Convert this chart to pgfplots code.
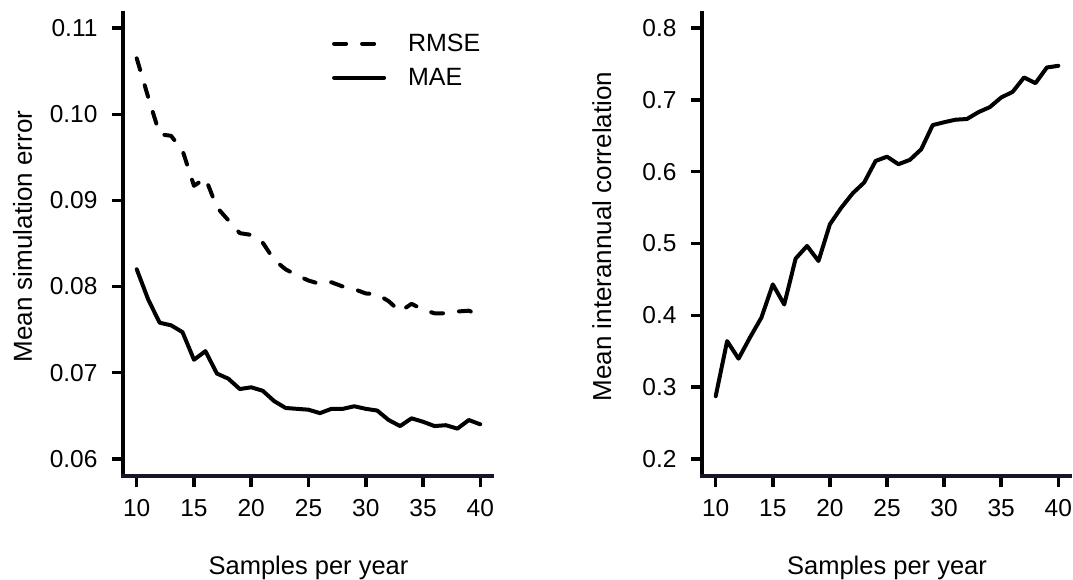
\documentclass[border=0pt]{standalone}
\usepackage{fontspec}
\setmainfont{Liberation Sans}
\usepackage{pgfplots}
\pgfplotsset{compat=1.18}
\definecolor{axblack}{RGB}{2,2,2}
\definecolor{xline}{RGB}{22,22,40}
\pgfplotstableread{
x rmse mae
10 0.1065 0.0820
11 0.1020 0.0785
12 0.0977 0.0758
13 0.0975 0.0755
14 0.0958 0.0747
15 0.0917 0.0715
16 0.0926 0.0725
17 0.0892 0.0699
18 0.0877 0.0693
19 0.0862 0.0681
20 0.0860 0.0683
21 0.0851 0.0679
22 0.0831 0.0667
23 0.0820 0.0659
24 0.0813 0.0658
25 0.0807 0.0657
26 0.0803 0.0653
27 0.0805 0.0658
28 0.0800 0.0658
29 0.0797 0.0661
30 0.0792 0.0658
31 0.0791 0.0656
32 0.0783 0.0645
33 0.0771 0.0638
34 0.0780 0.0647
35 0.0773 0.0643
36 0.0769 0.0638
37 0.0769 0.0639
38 0.0771 0.0635
39 0.0772 0.0645
40 0.0766 0.0640
}\errtab
\pgfplotstableread{
x corr
10 0.2873
11 0.3640
12 0.3395
13 0.3690
14 0.3967
15 0.4430
16 0.4150
17 0.4790
18 0.4966
19 0.4756
20 0.5268
21 0.5500
22 0.5700
23 0.5850
24 0.6150
25 0.6210
26 0.6105
27 0.6165
28 0.6314
29 0.6650
30 0.6690
31 0.6725
32 0.6735
33 0.6830
34 0.6900
35 0.7035
36 0.7113
37 0.7314
38 0.7234
39 0.7453
40 0.7476
}\cortab
\pgfplotsset{
  rstyle/.style={
    scale only axis,
    axis x line*=bottom,
    axis y line*=left,
    axis line style={line width=4pt, color=axblack},
    tick align=outside,
    major tick length=11pt,
    every tick/.style={line width=3.5pt, black},
    xmin=8.8, xmax=41.2,
    xtick={10,15,...,40},
    ticklabel style={font=\fontsize{24.5}{29}\selectfont},
    xticklabel shift=9pt,
    yticklabel shift=11pt,
    /pgf/number format/assume math mode=true,
    scaled y ticks=false,
    xlabel={Samples per year},
    xlabel style={font=\fontsize{25.5}{30}\selectfont, at={(axis description cs:0.5,-0.2108)}, anchor=base},
    ylabel style={font=\fontsize{26}{30}\selectfont},
    clip=false,
  }
}
\begin{document}
\begin{tikzpicture}
\useasboundingbox (0pt,0pt) rectangle (1073pt,579pt);
\begin{axis}[rstyle,
  at={(123pt,103pt)}, anchor=south west,
  width=371pt, height=465pt,
  ymin=0.058, ymax=0.112,
  ytick={0.06,0.07,...,0.11},
  yticklabel style={/pgf/number format/.cd, fixed, precision=2, fixed zerofill},
  ylabel={Mean simulation error},
  ylabel style={at={(axis description cs:-0.2453,0.515)}, anchor=base},
  legend style={at={(axis description cs:0.555,0.959)}, anchor=north west, draw=none, fill=none,
    font=\fontsize{25}{30}\selectfont, row sep=11pt,
    /tikz/every odd column/.append style={column sep=20pt}},
  legend cell align=left,
  legend image code/.code={\draw[#1] (0pt,0pt) -- (50pt,0pt);},
]
\addplot[black, line width=4pt, line cap=round, line join=round, dash pattern=on 12pt off 16pt] table[x=x,y=rmse]{\errtab};
\addlegendentry{RMSE}
\addplot[black, line width=4pt, line cap=round, line join=round] table[x=x,y=mae]{\errtab};
\addlegendentry{MAE}
\draw[xline, line width=4pt, shorten <=-2pt] (rel axis cs:0,0) -- (rel axis cs:1,0);
\end{axis}
\begin{axis}[rstyle,
  at={(702pt,103pt)}, anchor=south west,
  width=370pt, height=465pt,
  ymin=0.176, ymax=0.824,
  ytick={0.2,0.3,...,0.8},
  yticklabel style={/pgf/number format/.cd, fixed, precision=1, fixed zerofill},
  ylabel={Mean interannual correlation},
  ylabel style={at={(axis description cs:-0.2459,0.515)}, anchor=base},
]
\addplot[black, line width=4pt, line cap=round, line join=round] table[x=x,y=corr]{\cortab};
\draw[xline, line width=4pt, shorten <=-2pt] (rel axis cs:0,0) -- (rel axis cs:1,0);
\end{axis}
\end{tikzpicture}
\end{document}
